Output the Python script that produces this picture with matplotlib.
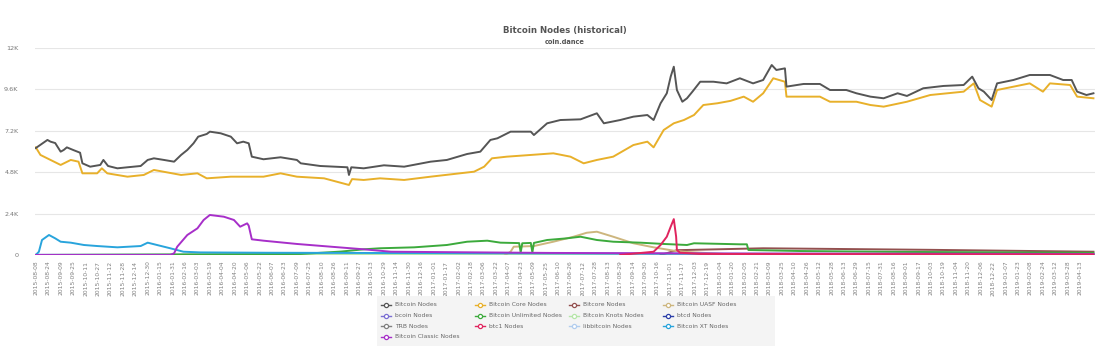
import numpy as np
import pandas as pd
import matplotlib
matplotlib.use("Agg")
import matplotlib.pyplot as plt
from matplotlib.lines import Line2D
from matplotlib.patches import Rectangle

# Bitcoin Nodes (historical) - coin.dance

# DATOS
total_dates = ["2015-08-08", "2015-08-23", "2015-08-27", "2015-09-02", "2015-09-09", "2015-09-13",
               "2015-09-17", "2015-09-25", "2015-10-04", "2015-10-07", "2015-10-17", "2015-10-30",
               "2015-11-03", "2015-11-09", "2015-11-21", "2015-12-04", "2015-12-21", "2015-12-30",
               "2016-01-07", "2016-01-20", "2016-02-02", "2016-02-11", "2016-02-19", "2016-02-27",
               "2016-03-04", "2016-03-15", "2016-03-19", "2016-04-02", "2016-04-15", "2016-04-23",
               "2016-05-01", "2016-05-08", "2016-05-12", "2016-05-27", "2016-06-18", "2016-07-09",
               "2016-07-14", "2016-08-08", "2016-09-12", "2016-09-14", "2016-09-17", "2016-10-03",
               "2016-10-29", "2016-11-24", "2016-12-28", "2017-01-18", "2017-02-13", "2017-03-02",
               "2017-03-15", "2017-03-24", "2017-04-10", "2017-05-06", "2017-05-10", "2017-05-27",
               "2017-06-13", "2017-07-09", "2017-07-30", "2017-08-08", "2017-08-29", "2017-09-15",
               "2017-10-03", "2017-10-11", "2017-10-20", "2017-10-28", "2017-11-02", "2017-11-06",
               "2017-11-10", "2017-11-17", "2017-11-23", "2017-11-30", "2017-12-10", "2017-12-27",
               "2018-01-13", "2018-01-30", "2018-02-16", "2018-03-01", "2018-03-12", "2018-03-18",
               "2018-03-29", "2018-03-31", "2018-04-22", "2018-05-13", "2018-05-26", "2018-06-16",
               "2018-06-29", "2018-07-17", "2018-08-03", "2018-08-21", "2018-09-02", "2018-09-23",
               "2018-10-19", "2018-11-14", "2018-11-25", "2018-12-03", "2018-12-10", "2018-12-20",
               "2018-12-27", "2019-01-17", "2019-02-07", "2019-03-05", "2019-03-22", "2019-04-02",
               "2019-04-09", "2019-04-21", "2019-04-30"]
total_vals = [6200, 6670, 6570, 6490, 5990, 6090,
              6240, 6090, 5930, 5315, 5120, 5220,
              5510, 5160, 5025, 5085, 5160, 5510,
              5605, 5510, 5410, 5800, 6090, 6475,
              6860, 7015, 7150, 7055, 6860, 6475,
              6570, 6475, 5700, 5550, 5665, 5510,
              5315, 5160, 5085, 4640, 5085, 5025,
              5200, 5120, 5410, 5510, 5855, 5990,
              6670, 6765, 7150, 7150, 6955, 7635,
              7825, 7865, 8215, 7635, 7825, 8020,
              8115, 7825, 8795, 9375, 10340, 10915,
              9565, 8885, 9085, 9470, 10045, 10045,
              9950, 10245, 9950, 10145, 11015, 10725,
              10820, 9760, 9915, 9915, 9565, 9565,
              9375, 9180, 9085, 9375, 9220, 9665,
              9800, 9855, 10340, 9665, 9470, 8985,
              9950, 10145, 10435, 10435, 10145, 10145,
              9470, 9275, 9375]

core_dates = ["2015-08-08", "2015-08-14", "2015-08-27", "2015-09-09", "2015-09-22", "2015-10-02",
              "2015-10-07", "2015-10-26", "2015-11-01", "2015-11-08", "2015-12-04", "2015-12-25",
              "2016-01-07", "2016-02-11", "2016-03-03", "2016-03-15", "2016-04-15", "2016-05-27",
              "2016-06-18", "2016-07-09", "2016-08-13", "2016-09-14", "2016-09-18", "2016-10-03",
              "2016-10-24", "2016-11-24", "2016-12-28", "2017-02-22", "2017-03-07", "2017-03-17",
              "2017-04-05", "2017-05-06", "2017-06-04", "2017-06-26", "2017-07-13", "2017-07-30",
              "2017-08-20", "2017-09-15", "2017-10-03", "2017-10-11", "2017-10-24", "2017-11-06",
              "2017-11-19", "2017-12-02", "2017-12-14", "2018-01-01", "2018-01-18", "2018-02-04",
              "2018-02-16", "2018-03-01", "2018-03-14", "2018-03-29", "2018-03-31", "2018-05-13",
              "2018-05-26", "2018-06-29", "2018-07-17", "2018-08-03", "2018-09-02", "2018-10-02",
              "2018-11-14", "2018-11-27", "2018-12-05", "2018-12-20", "2018-12-27", "2019-02-07",
              "2019-02-24", "2019-03-05", "2019-03-31", "2019-04-09", "2019-04-30"]
core_vals = [6240, 5800, 5510, 5220, 5510, 5410,
             4735, 4735, 5025, 4735, 4540, 4640,
             4930, 4640, 4735, 4445, 4540, 4540,
             4735, 4540, 4445, 4060, 4400, 4350,
             4445, 4350, 4540, 4830, 5120, 5605,
             5700, 5800, 5895, 5700, 5315, 5510,
             5700, 6375, 6570, 6240, 7245, 7635,
             7825, 8115, 8695, 8795, 8935, 9180,
             8885, 9375, 10245, 10045, 9180, 9180,
             8885, 8885, 8695, 8600, 8885, 9275,
             9470, 9950, 8985, 8600, 9565, 9950,
             9470, 9950, 9855, 9180, 9085]

xt_dates = ["2015-08-08", "2015-08-12", "2015-08-16", "2015-08-25", "2015-09-02", "2015-09-09",
            "2015-09-22", "2015-10-09", "2015-10-26", "2015-11-21", "2015-12-21", "2015-12-30",
            "2016-01-11", "2016-01-28", "2016-02-14", "2016-03-07", "2016-06-01", "2017-01-01",
            "2017-09-01", "2018-06-01", "2019-04-30"]
xt_vals = [0, 190, 870, 1160, 965, 770,
           715, 580, 520, 445, 520, 715,
           580, 390, 190, 150, 130, 110,
           80, 60, 50]

classic_dates = ["2015-08-08", "2016-01-28", "2016-02-02", "2016-02-06", "2016-02-19", "2016-03-03",
                 "2016-03-11", "2016-03-19", "2016-04-06", "2016-04-19", "2016-04-27", "2016-05-06",
                 "2016-05-08", "2016-05-12", "2016-05-27", "2016-07-09", "2016-08-22", "2016-10-03",
                 "2016-11-07", "2017-06-01", "2018-01-01", "2019-04-30"]
classic_vals = [0, 0, 100, 480, 1160, 1545,
                2030, 2320, 2220, 2030, 1640, 1835,
                1700, 910, 830, 640, 480, 330,
                190, 120, 90, 60]

unlimited_dates = ["2015-08-08", "2016-07-14", "2016-09-04", "2016-10-03", "2016-10-24", "2016-12-07",
                   "2017-01-18", "2017-02-13", "2017-03-11", "2017-03-28", "2017-04-21", "2017-04-23",
                   "2017-04-25", "2017-05-06", "2017-05-08", "2017-05-10", "2017-05-27", "2017-06-21",
                   "2017-07-09", "2017-07-30", "2017-08-20", "2017-09-24", "2017-10-24", "2017-11-23",
                   "2017-12-02", "2018-01-30", "2018-02-08", "2018-02-10", "2018-04-18", "2018-08-25",
                   "2019-04-30"]
unlimited_vals = [0, 60, 200, 330, 390, 445,
                  580, 770, 830, 715, 690, 150,
                  680, 700, 150, 700, 870, 965,
                  1060, 870, 770, 715, 640, 580,
                  680, 620, 620, 290, 230, 180,
                  130]

uasf_dates = ["2017-04-03", "2017-04-10", "2017-04-14", "2017-05-10", "2017-06-04", "2017-06-30",
              "2017-07-17", "2017-07-30", "2017-08-20", "2017-09-15", "2017-10-11", "2017-11-06",
              "2017-11-23", "2018-01-10", "2018-03-01"]
uasf_vals = [0, 190, 480, 520, 770, 1060,
             1290, 1350, 1060, 680, 445, 250,
             175, 60, 0]

btc1_dates = ["2017-08-29", "2017-09-11", "2017-10-11", "2017-10-20", "2017-10-28", "2017-11-02",
              "2017-11-06", "2017-11-09", "2017-11-10", "2017-11-14", "2017-12-10", "2019-04-30"]
btc1_vals = [0, 60, 190, 580, 1060, 1640,
             2080, 1060, 290, 135, 60, 30]

bitcore_dates = ["2017-10-20", "2017-11-10", "2018-01-01", "2018-03-01", "2018-10-01", "2019-04-30"]
bitcore_vals = [0, 280, 330, 390, 300, 190]

low_dates = ["2015-08-08", "2019-04-30"]
bcoin_vals = [0, 20]
knots_vals = [0, 30]
btcd_vals = [10, 20]
trb_vals = [0, 0]
libbitcoin_vals = [0, 10]

series = [
    ("Bitcoin Nodes", "#555555", total_dates, total_vals),
    ("Bitcoin Core Nodes", "#e8b02a", core_dates, core_vals),
    ("Bitcore Nodes", "#93504f", bitcore_dates, bitcore_vals),
    ("Bitcoin UASF Nodes", "#cdb67e", uasf_dates, uasf_vals),
    ("bcoin Nodes", "#7b6fd3", low_dates, bcoin_vals),
    ("Bitcoin Unlimited Nodes", "#3caa3c", unlimited_dates, unlimited_vals),
    ("Bitcoin Knots Nodes", "#b6e6a9", low_dates, knots_vals),
    ("btcd Nodes", "#2b3fa8", low_dates, btcd_vals),
    ("TRB Nodes", "#808080", low_dates, trb_vals),
    ("btc1 Nodes", "#e0245e", btc1_dates, btc1_vals),
    ("libbitcoin Nodes", "#b2cdee", low_dates, libbitcoin_vals),
    ("Bitcoin XT Nodes", "#28a4dc", xt_dates, xt_vals),
    ("Bitcoin Classic Nodes", "#a72fc9", classic_dates, classic_vals),
]

y_ticks = [0, 2400, 4800, 7200, 9600, 12000]
y_labels = ["0", "2.4K", "4.8K", "7.2K", "9.6K", "12K"]
x_ticks = pd.date_range("2015-08-08", "2019-04-14", freq="16D")

# GRAFICA
W, H = 1111, 352
fig = plt.figure(figsize=(W / 100, H / 100), dpi=100)
ax = fig.add_axes([35 / W, 1 - 255 / H, 1060 / W, 207 / H])

# orden de dibujo: las pequeñas primero, los totales encima
order = [8, 10, 7, 4, 6, 2, 3, 5, 11, 12, 9, 1, 0]
for i in order:
    name, color, d, v = series[i]
    ax.plot(pd.to_datetime(d), v, color=color, lw=1.4, solid_joinstyle="round", zorder=3)

ax.set_ylim(0, 12000)
ax.set_xlim(pd.Timestamp("2015-08-07"), pd.Timestamp("2019-05-02"))
ax.set_yticks(y_ticks)
ax.set_yticklabels(y_labels)
ax.set_xticks(x_ticks)
ax.set_xticklabels([t.strftime("%Y-%m-%d") for t in x_ticks], rotation=90)
ax.tick_params(axis="y", length=0, pad=12, labelsize=4.6, labelcolor="#777777")
ax.tick_params(axis="x", length=0, pad=4, labelsize=4.3, labelcolor="#808080")
ax.grid(axis="y", color="#e6e6e6", lw=0.8)
ax.set_axisbelow(True)
for s in ax.spines.values():
    s.set_visible(False)

fig.text(565 / W, 1 - 31 / H, "Bitcoin Nodes (historical)", ha="center", va="center",
         fontsize=6.2, fontweight="bold", color="#555555")
fig.text(565 / W, 1 - 42 / H, "coin.dance", ha="center", va="center",
         fontsize=4.8, fontweight="bold", color="#555555")

# leyenda (4 columnas, por filas)
lx0, ly0, lw_, lh_ = 377, 296, 398, 50
fig.patches.append(Rectangle((lx0 / W, 1 - (ly0 + lh_) / H), lw_ / W, lh_ / H,
                             transform=fig.transFigure, facecolor="#f4f4f4",
                             edgecolor="none", zorder=0))
for k, (name, color, d, v) in enumerate(series):
    r, c = divmod(k, 4)
    x = 381 + c * 94
    y = 305 + r * 10.5
    fig.add_artist(Line2D([x / W, (x + 10) / W], [1 - y / H, 1 - y / H],
                          transform=fig.transFigure, color=color, lw=1.0))
    fig.add_artist(Line2D([(x + 5) / W], [1 - y / H], transform=fig.transFigure,
                          color=color, marker="o", markersize=3, markerfacecolor="white",
                          markeredgewidth=0.9, lw=0))
    fig.text((x + 14) / W, 1 - y / H, name, ha="left", va="center",
             fontsize=4.3, color="#666666")

fig.savefig("out.png", dpi=100, facecolor="white")
